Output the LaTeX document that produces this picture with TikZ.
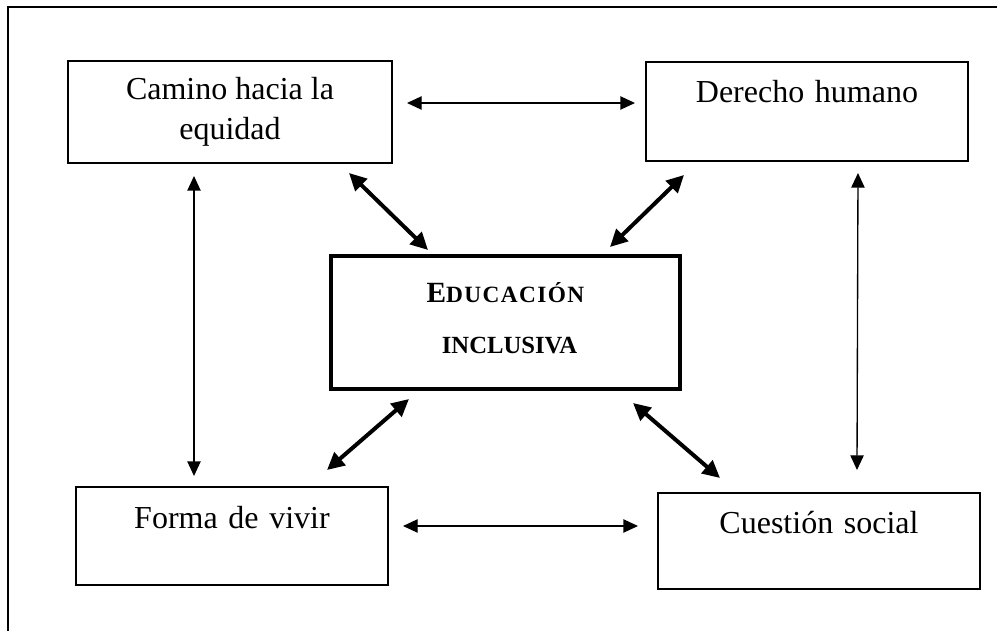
\documentclass[tikz,border=0pt]{standalone}
\usepackage{fontspec}
\setmainfont{Liberation Serif}
\newfontfamily\spacedfont[LetterSpace=6]{Liberation Serif}
\usetikzlibrary{arrows.meta}
\begin{document}
\begin{tikzpicture}[x=0.75pt,y=-0.75pt,
  box/.style={draw, rectangle, inner sep=0pt, font=\fontsize{24pt}{30.4pt}\selectfont, align=center},
  thinbox/.style={box, line width=0.8pt},
  thin/.style={line width=1pt, {Triangle[length=11pt,width=10pt]}-{Triangle[length=11pt,width=10pt]}},
  thick/.style={line width=3pt, {Triangle[length=13pt,width=12.5pt]}-{Triangle[length=13pt,width=12.5pt]}}]
\fill[white] (0,0) rectangle (997,631);
\useasboundingbox (0,0) rectangle (997,631);
% outer frame (cut at right and bottom)
\draw[line width=1.5pt] (8,631) -- (8,7) -- (997,7);
% boxes
\node[box, line width=1.6pt, minimum width=243pt, minimum height=76.5pt] (camino) at (230,112) {Camino hacia la\\equidad};
\node[thinbox, text width=241.5pt, text height=30.75pt, text depth=43.5pt, anchor=base] (derecho) at (807,103) {Derecho humano};
\node[thinbox, text width=234pt, text height=30.75pt, text depth=42.75pt, anchor=base] (forma) at (232,528) {Forma de vivir};
\node[thinbox, text width=241.5pt, text height=30pt, text depth=42pt, anchor=base] (cuestion) at (819,533) {Cuestión social};
\node[draw, line width=3pt, minimum width=261.75pt, minimum height=99.75pt, inner sep=0pt, align=center,
  font=\bfseries\fontsize{22pt}{38.25pt}\selectfont] (edu) at (505.5,322.5)
  {E{\fontsize{17.5pt}{38.25pt}\selectfont\spacedfont DUCACIÓN}\\
   \hspace*{6pt}{\fontsize{18.5pt}{38.25pt}\selectfont INCLUSIVA}\\[-30.75pt]};
% connector end points
\coordinate (t1) at (407,103);  \coordinate (t2) at (635,103);
\coordinate (b1) at (403,526);  \coordinate (b2) at (638,526);
\coordinate (l1) at (194,176);  \coordinate (l2) at (194,476);
\coordinate (r1) at (858,173);  \coordinate (r2) at (857,470);
\coordinate (dtl1) at (349,173); \coordinate (dtl2) at (428,250);
\coordinate (dtr1) at (684,175); \coordinate (dtr2) at (610,247);
\coordinate (dbl1) at (409,399); \coordinate (dbl2) at (327,470);
\coordinate (dbr1) at (633,403); \coordinate (dbr2) at (720,478);
% connectors
\draw[thin] (t1) -- (t2);
\draw[thin] (b1) -- (b2);
\draw[thin] (l1) -- (l2);
\draw[thin] (r1) -- (r2);
\draw[thick] (dtl1) -- (dtl2);
\draw[thick] (dtr1) -- (dtr2);
\draw[thick] (dbl1) -- (dbl2);
\draw[thick] (dbr1) -- (dbr2);
\end{tikzpicture}
\end{document}
